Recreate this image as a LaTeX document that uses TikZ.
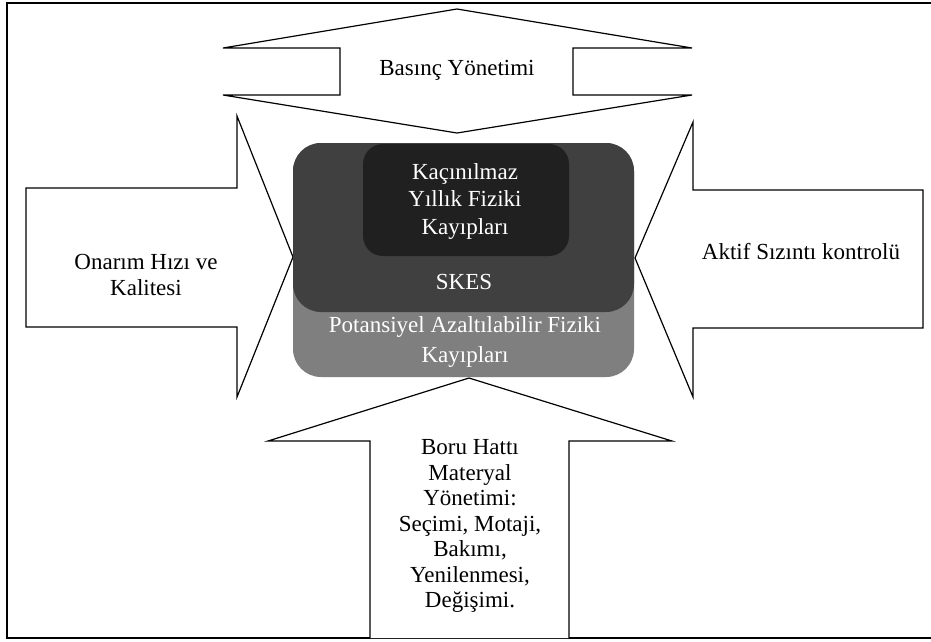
\documentclass[tikz,border=0pt]{standalone}
\usepackage{fontspec}
\setmainfont{Liberation Serif}
\definecolor{boxgray}{HTML}{7F7F7F}
\definecolor{boxdark}{HTML}{404040}
\definecolor{boxdarker}{HTML}{202020}
\begin{document}
\begin{tikzpicture}[x=1pt,y=-1pt,
  arrowshape/.style={draw=black,fill=white,line width=1.2pt,line join=miter},
  lbl/.style={font=\fontsize{23}{25.5}\selectfont,align=center,inner sep=0pt},
  wlbl/.style={lbl,text=white}]
\useasboundingbox (0,0) rectangle (931,641);
\fill[white] (0,0) rectangle (931,641);
% frame
\draw[line width=2pt] (7,3) rectangle (945,638);
% top double arrow
\draw[arrowshape] (223,48) -- (457,9) -- (692,48) -- (573,48) -- (573,95) -- (692,95)
  -- (457,133) -- (223,95) -- (340,95) -- (340,48) -- cycle;
% left arrow
\draw[arrowshape] (26,188) -- (237,188) -- (237,116) -- (293,257) -- (237,397)
  -- (237,327) -- (26,327) -- cycle;
% right arrow
\draw[arrowshape] (923,190) -- (693,190) -- (693,122) -- (635,258) -- (693,397)
  -- (693,328) -- (923,328) -- cycle;
% bottom arrow
\draw[arrowshape] (370,638) -- (370,441) -- (268,441) -- (469,378) -- (672,441)
  -- (569,441) -- (569,638);
% central boxes
\fill[boxgray,rounded corners=28pt] (293,143) rectangle (634,377);
\fill[boxdark,rounded corners=28pt] (293,143) rectangle (634,312);
\fill[boxdarker,rounded corners=20pt] (363,144) rectangle (569,256);
% labels
\node[lbl] (basinc) at (457,70) {Basınç Yönetimi};
\node[lbl] (onarim) at (146,275) {Onarım Hızı ve\\Kalitesi};
\node[lbl] (aktif) at (801,252) {Aktif Sızıntı kontrolü};
\node[lbl] (boru) at (470,526) {Boru Hattı\\Materyal\\Yönetimi:\\Seçimi, Motaji,\\Bakımı,\\Yenilenmesi,\\Değişimi.};
\node[wlbl,font=\fontsize{23}{27.5}\selectfont] (kacin) at (465,201) {Kaçınılmaz\\Yıllık Fiziki\\Kayıpları};
\node[wlbl] (skes) at (464,282) {SKES};
\node[wlbl,font=\fontsize{23}{30}\selectfont] (potans) at (465,342) {Potansiyel Azaltılabilir Fiziki\\Kayıpları};
\end{tikzpicture}
\end{document}
